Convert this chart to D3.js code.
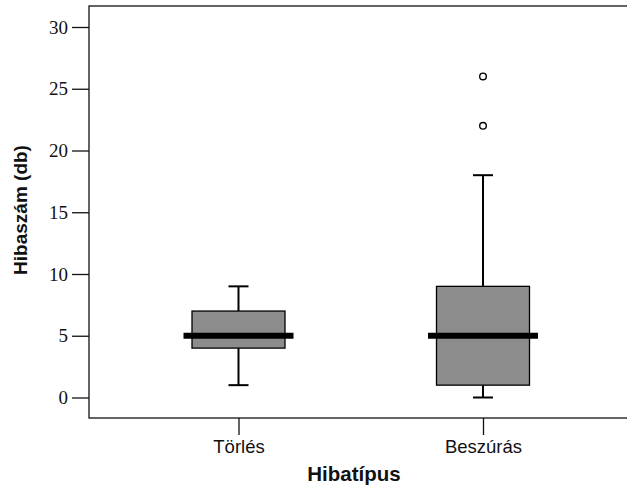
<!DOCTYPE html>
<html>
<head>
<meta charset="utf-8">
<script src="https://cdn.jsdelivr.net/npm/d3@7"></script>
<style>
  html, body { margin: 0; padding: 0; background: #fff; }
  svg { display: block; }
  .ytick text { font-family: "Liberation Serif", "DejaVu Serif", serif !important; font-size: 19px !important; }
  .xtick text { font-family: "Liberation Sans", Arial, sans-serif !important; font-size: 18.5px !important; }
</style>
</head>
<body>
<svg id="chart" width="627" height="485"></svg>
<script>
// ---- data ----
const categories = ["Törlés", "Beszúrás"];
const q1 =        [4, 1];
const medians =   [5, 5];
const q3 =        [7, 9];
const whiskerLo = [1, 0];
const whiskerHi = [9, 18];
const outliers =  [[], [22, 26]];
const yTicks = [0, 5, 10, 15, 20, 25, 30];
const xTitle = "Hibatípus";
const yTitle = "Hibaszám (db)";

// ---- layout ----
const svg = d3.select("#chart");
const plotLeft = 89, plotTop = 6, plotBottom = 418, plotRight = 700;

const y = d3.scaleLinear().domain([0, 30]).range([397.5, 27]);
const x = d3.scalePoint().domain(categories).range([238.5, 483]);

const boxW = 93, medW = 110, capW = 20;

// frame
svg.append("rect")
  .attr("x", plotLeft).attr("y", plotTop)
  .attr("width", plotRight - plotLeft).attr("height", plotBottom - plotTop)
  .attr("fill", "none").attr("stroke", "#111").attr("stroke-width", 1.3);

// y axis
const yAxis = d3.axisLeft(y).tickValues(yTicks).tickSize(17).tickPadding(4);
const gy = svg.append("g").attr("class", "ytick").attr("transform", `translate(${plotLeft},0)`).call(yAxis)
  .attr("font-family", "Liberation Serif").attr("font-size", 19);
gy.select(".domain").remove();
gy.selectAll(".tick line").attr("stroke", "#111").attr("stroke-width", 1.3);
gy.selectAll(".tick text").attr("fill", "#111");

// x axis
const xAxis = d3.axisBottom(x).tickSize(17).tickPadding(5);
const gx = svg.append("g").attr("class", "xtick").attr("transform", `translate(0,${plotBottom})`).call(xAxis)
  .attr("font-family", "Liberation Sans").attr("font-size", 18.5);
gx.select(".domain").remove();
gx.selectAll(".tick line").attr("stroke", "#111").attr("stroke-width", 1.3);
gx.selectAll(".tick text").attr("fill", "#111");

// boxes
const data = categories.map((c, i) => ({
  c, q1: q1[i], med: medians[i], q3: q3[i], lo: whiskerLo[i], hi: whiskerHi[i], out: outliers[i]
}));

const g = svg.append("g");
data.forEach(d => {
  const cx = x(d.c);
  g.append("line").attr("x1", cx).attr("x2", cx).attr("y1", y(d.q3)).attr("y2", y(d.hi))
    .attr("stroke", "#000").attr("stroke-width", 2);
  g.append("line").attr("x1", cx).attr("x2", cx).attr("y1", y(d.q1)).attr("y2", y(d.lo))
    .attr("stroke", "#000").attr("stroke-width", 2);
  g.append("line").attr("x1", cx - capW / 2).attr("x2", cx + capW / 2).attr("y1", y(d.hi)).attr("y2", y(d.hi))
    .attr("stroke", "#000").attr("stroke-width", 2);
  g.append("line").attr("x1", cx - capW / 2).attr("x2", cx + capW / 2).attr("y1", y(d.lo)).attr("y2", y(d.lo))
    .attr("stroke", "#000").attr("stroke-width", 2);
  g.append("rect").attr("x", cx - boxW / 2).attr("y", y(d.q3))
    .attr("width", boxW).attr("height", y(d.q1) - y(d.q3))
    .attr("fill", "#8c8c8c").attr("stroke", "#000").attr("stroke-width", 1.3);
  g.append("line").attr("x1", cx - medW / 2).attr("x2", cx + medW / 2).attr("y1", y(d.med)).attr("y2", y(d.med))
    .attr("stroke", "#000").attr("stroke-width", 6);
  d.out.forEach(v => {
    g.append("circle").attr("cx", cx).attr("cy", y(v)).attr("r", 3.3)
      .attr("fill", "#fff").attr("stroke", "#000").attr("stroke-width", 1.4);
  });
});

// titles
svg.append("text").attr("x", 354).attr("y", 481).attr("text-anchor", "middle")
  .attr("font-family", "'Liberation Sans', Arial, sans-serif").attr("font-weight", "bold")
  .attr("font-size", 20.5).attr("fill", "#111").text(xTitle);

svg.append("text").attr("transform", "translate(27,210) rotate(-90)").attr("text-anchor", "middle")
  .attr("font-family", "'Liberation Sans', Arial, sans-serif").attr("font-weight", "bold")
  .attr("font-size", 19).attr("fill", "#111").text(yTitle);
</script>
</body>
</html>
